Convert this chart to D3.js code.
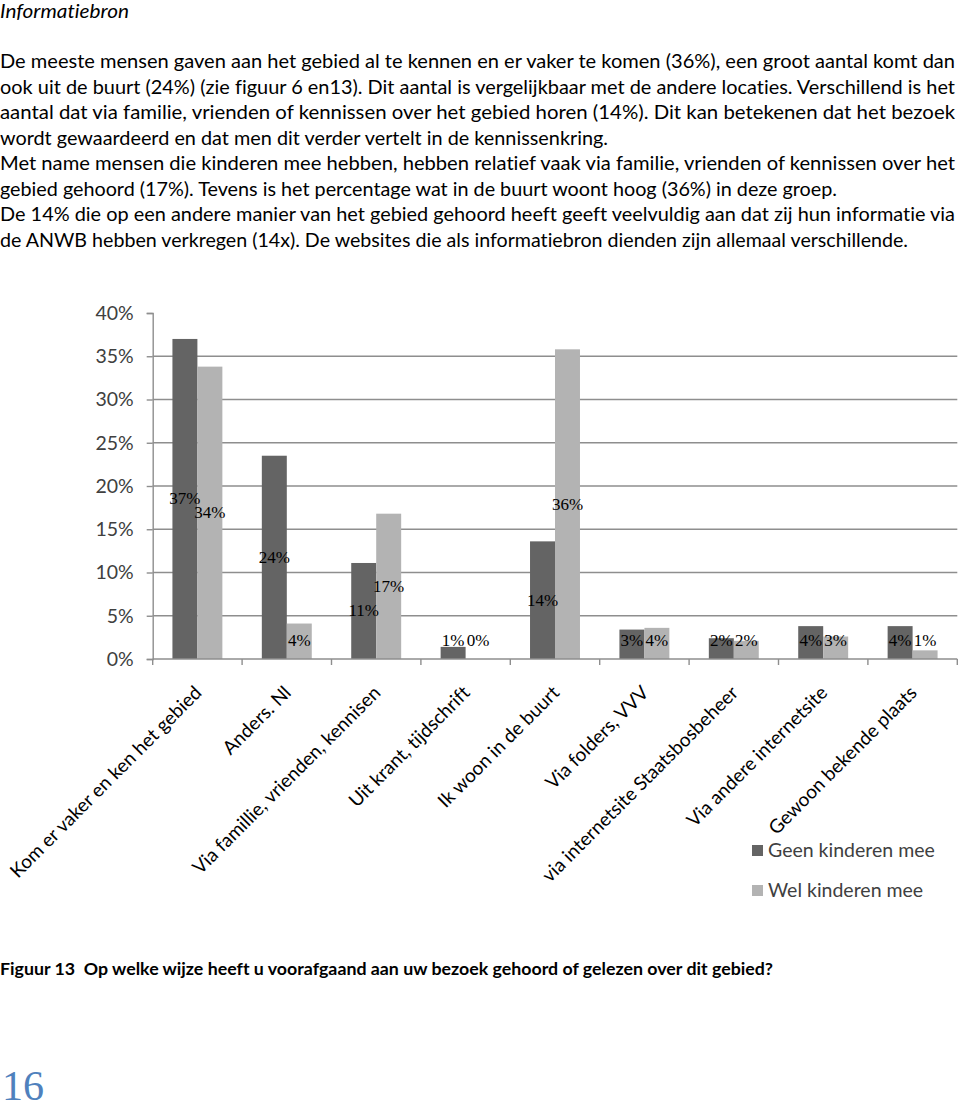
<!DOCTYPE html>
<html>
<head>
<meta charset="utf-8">
<script src="https://cdn.jsdelivr.net/npm/d3@7"></script>
<style>
  html, body { margin: 0; padding: 0; background: #fff; }
  svg { display: block; }
  text { font-variant-ligatures: none; font-feature-settings: "liga" 0, "clig" 0; }
</style>
</head>
<body>
<svg id="page" width="960" height="1110"></svg>
<script>
// ---------- data ----------
const categories = [
  "Kom er vaker en ken het gebied",
  "Anders. Nl",
  "Via famillie, vrienden, kennisen",
  "Uit krant, tijdschrift",
  "Ik woon in de buurt",
  "Via folders, VVV",
  "via internetsite Staatsbosbeheer",
  "Via andere internetsite",
  "Gewoon bekende plaats"
];
const seriesNames = ["Geen kinderen mee", "Wel kinderen mee"];
const geenKinderen = [37.0, 23.5, 11.1, 1.4, 13.6, 3.4, 2.4, 3.8, 3.8];
const welKinderen  = [33.8, 4.1, 16.8, 0.0, 35.8, 3.6, 2.1, 2.6, 1.0];
const yTicks = [0, 5, 10, 15, 20, 25, 30, 35, 40];

const titleText = "Informatiebron";
const bodyLines = [
  "De meeste mensen gaven aan het gebied al te kennen en er vaker te komen (36%), een groot aantal komt dan",
  "ook uit de buurt (24%) (zie figuur 6 en13). Dit aantal is vergelijkbaar met de andere locaties. Verschillend is het",
  "aantal dat via familie, vrienden of kennissen over het gebied horen (14%). Dit kan betekenen dat het bezoek",
  "wordt gewaardeerd en dat men dit verder vertelt in de kennissenkring.",
  "Met name mensen die kinderen mee hebben, hebben relatief vaak via familie, vrienden of kennissen over het",
  "gebied gehoord (17%). Tevens is het percentage wat in de buurt woont hoog (36%) in deze groep.",
  "De 14% die op een andere manier van het gebied gehoord heeft geeft veelvuldig aan dat zij hun informatie via",
  "de ANWB hebben verkregen (14x). De websites die als informatiebron dienden zijn allemaal verschillende."
];
const captionText = "Figuur 13  Op welke wijze heeft u voorafgaand aan uw bezoek gehoord of gelezen over dit gebied?";
const pageNumber = "16";

// ---------- page ----------
const svg = d3.select("#page");
const bodyFont = "Lato, 'Open Sans', sans-serif";

svg.append("text")
  .attr("x", 0).attr("y", 18)
  .attr("font-family", bodyFont).attr("font-style", "italic")
  .attr("font-size", 19.5).attr("fill", "#000")
  .attr("textLength", 129).attr("lengthAdjust", "spacingAndGlyphs")
  .text(titleText);

const lineWidths = [955, 955, 955, 608, 955, 837, 955, 908];
svg.append("g").selectAll("text").data(bodyLines).join("text")
  .attr("x", 0)
  .attr("y", (d, i) => 68 + i * 25.5)
  .attr("font-family", bodyFont).attr("font-size", 19.8).attr("fill", "#000")
  .attr("textLength", (d, i) => lineWidths[i])
  .attr("lengthAdjust", "spacingAndGlyphs")
  .text(d => d);

// ---------- chart ----------
const plotLeft = 152.7, plotRight = 957.3, yTop = 313, yBottom = 659;

const y = d3.scaleLinear().domain([0, 40]).range([yBottom, yTop]);
const x0 = d3.scaleBand().domain(categories).range([plotLeft, plotRight]).padding(0);
const x1 = d3.scaleBand().domain(seriesNames).range([0, x0.bandwidth()])
  .paddingInner(0).paddingOuter(0.79);
const color = d3.scaleOrdinal().domain(seriesNames).range(["#646464", "#b3b3b3"]);

const chart = svg.append("g");
const gridColor = "#8e8e8e";

// gridlines
chart.append("g").selectAll("line")
  .data(yTicks.filter(t => t > 0 && t < 40))
  .join("line")
  .attr("x1", plotLeft).attr("x2", plotRight)
  .attr("y1", d => y(d)).attr("y2", d => y(d))
  .attr("stroke", gridColor).attr("stroke-width", 1.4);

// bars
const rows = categories.map((c, i) => ({
  cat: c,
  vals: [
    { s: seriesNames[0], v: geenKinderen[i] },
    { s: seriesNames[1], v: welKinderen[i] }
  ]
}));

const groups = chart.append("g").selectAll("g").data(rows).join("g")
  .attr("transform", d => `translate(${x0(d.cat)},0)`);

groups.selectAll("rect").data(d => d.vals).join("rect")
  .attr("x", d => x1(d.s))
  .attr("width", x1.bandwidth())
  .attr("y", d => y(d.v))
  .attr("height", d => y(0) - y(d.v))
  .attr("fill", d => color(d.s));

// data labels
groups.selectAll("text").data(d => d.vals).join("text")
  .attr("x", d => x1(d.s) + x1.bandwidth() / 2)
  .attr("y", d => Math.min((y(d.v) + y(0)) / 2, y(0) - 19) + 5.5)
  .attr("text-anchor", "middle")
  .attr("font-family", "'Liberation Serif', 'DejaVu Serif', serif")
  .attr("font-size", 17).attr("fill", "#000")
  .text(d => Math.round(d.v) + "%");

// y axis
const yAxis = d3.axisLeft(y).tickValues(yTicks).tickFormat(d => d + "%")
  .tickSize(6).tickPadding(13);
const yg = chart.append("g").attr("transform", `translate(${plotLeft},0)`).call(yAxis);
yg.select(".domain").attr("stroke", gridColor).attr("stroke-width", 1.4);
yg.selectAll(".tick line").attr("stroke", gridColor).attr("stroke-width", 1.4);
yg.selectAll(".tick text")
  .attr("font-family", bodyFont).attr("font-size", 19.5).attr("fill", "#404040");

// x axis (ticks at category boundaries)
const xg = chart.append("g");
xg.append("line")
  .attr("x1", plotLeft).attr("x2", plotRight)
  .attr("y1", y(0)).attr("y2", y(0))
  .attr("stroke", gridColor).attr("stroke-width", 1.4);
const boundaries = categories.map(c => x0(c)).concat([x0.range()[1]]);
xg.selectAll("line.tk").data(boundaries).join("line").attr("class", "tk")
  .attr("x1", d => d).attr("x2", d => d)
  .attr("y1", y(0)).attr("y2", y(0) + 6)
  .attr("stroke", gridColor).attr("stroke-width", 1.4);

// rotated category labels
xg.selectAll("text").data(categories).join("text")
  .attr("transform", d => `translate(${x0(d) + x0.bandwidth() / 2 + 5.5},${y(0) + 35}) rotate(-45)`)
  .attr("text-anchor", "end")
  .attr("font-family", bodyFont).attr("font-size", 19).attr("fill", "#000")
  .text(d => d);

// legend
const legend = svg.append("g").selectAll("g").data(seriesNames).join("g")
  .attr("transform", (d, i) => `translate(752,${845 + i * 40})`);
legend.append("rect").attr("width", 11).attr("height", 11).attr("fill", d => color(d));
legend.append("text").attr("x", 16).attr("y", 12)
  .attr("font-family", bodyFont).attr("font-size", 19.5).attr("fill", "#404040")
  .text(d => d);

// caption
svg.append("text")
  .attr("x", 0).attr("y", 975)
  .attr("xml:space", "preserve")
  .style("white-space", "pre")
  .attr("font-family", bodyFont).attr("font-weight", "bold")
  .attr("font-size", 17.5).attr("fill", "#000")
  .attr("textLength", 773).attr("lengthAdjust", "spacingAndGlyphs")
  .text(captionText);

// page number
svg.append("text")
  .attr("x", 2).attr("y", 1100)
  .attr("font-family", "'Liberation Serif', 'DejaVu Serif', serif")
  .attr("font-size", 42).attr("fill", "#4f81bd")
  .text(pageNumber);
</script>
</body>
</html>
